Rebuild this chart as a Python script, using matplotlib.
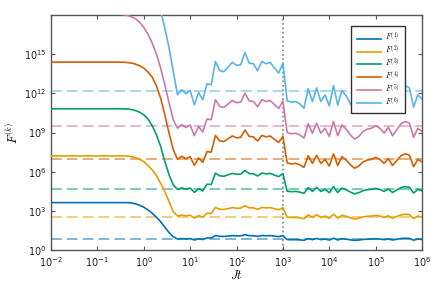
import numpy as np
import matplotlib
matplotlib.use("Agg")
import matplotlib.pyplot as plt

plt.rcParams["mathtext.fontset"] = "cm"

# time grid (11 samples per decade)
t = np.logspace(-2, 6, 89)

labels = ["$F^{(1)}$", "$F^{(2)}$", "$F^{(3)}$", "$F^{(4)}$", "$F^{(5)}$", "$F^{(6)}$"]
colors = ["#0072B2", "#E69F00", "#009E73", "#D55E00", "#CC79A7", "#56B4E9"]

# log10 of the initial plateau, and the decay (samples 15..29)
plateau = [3.63, 7.21, 10.82, 14.40, 18.30, 24.0]
decay = [
    [3.63, 3.63, 3.63, 3.63, 3.61, 3.54, 3.43, 3.28, 3.07, 2.82, 2.51, 2.17, 1.74, 1.33, 1.02],
    [7.21, 7.21, 7.21, 7.20, 7.16, 7.08, 6.95, 6.78, 6.47, 6.14, 5.70, 5.11, 4.48, 3.70, 2.94],
    [10.82, 10.82, 10.82, 10.81, 10.77, 10.69, 10.56, 10.36, 10.03, 9.52, 8.83, 7.94, 6.78, 5.76, 4.99],
    [14.40, 14.40, 14.39, 14.37, 14.33, 14.25, 14.12, 13.94, 13.64, 13.25, 12.58, 11.64, 10.36, 8.95, 7.68],
    [18.15, 18.09, 18.04, 17.99, 17.88, 17.73, 17.47, 17.06, 16.55, 15.86, 15.02, 13.94, 12.66, 11.26, 9.98],
    [24.0, 24.0, 23.9, 23.7, 23.4, 23.0, 22.5, 21.9, 21.2, 20.4, 19.4, 18.3, 17.01, 15.48, 13.68],
]

# long-time part (samples 30..88): level + jump * bump + amp * wiggle
center = [0.86, 2.65, 4.72, 7.10, 9.52, 12.15]
jump = [0.22, 0.55, 1.08, 1.50, 1.77, 2.00]
amp = [0.09, 0.20, 0.30, 0.60, 0.74, 1.00]
bump = [0] * 7 + [0.3, 0.3] + [1] * 17 + [0] * 33
wiggle = [-0.25, 0.13, -0.18, 0.08, -1.02, -0.08, -0.64,
          -0.01, -0.09,
          0.30, -0.39, -0.49, -0.13, 0.23, 0.00, 0.05, 0.99, 0.18, 0.12, -0.41, 0.30, 0.12, 0.23,
          -0.21, -0.59, 0.18,
          -0.70, -0.84, -0.77, -0.95, -1.28, 0.20, -0.77, 0.27, -0.77, -0.26, -1.11, 0.45, -1.04,
          0.09, -0.35, -0.95, -1.39, -1.11, -0.59, -0.35, -0.26, 0.0, -0.26, -0.77, -0.15, -1.04,
          -0.42, 0.20, 0.45, 0.27, -1.19, -0.26, -0.59]

# long-time reference values (log10)
dashed = [0.84, 2.56, 4.66, 6.96, 9.52, 12.15]

fig = plt.figure(figsize=(4.36, 2.91), dpi=100)
ax = fig.add_axes([0.117, 0.141, 0.851, 0.807])

for k in range(6):
    logF = [plateau[k]] * 15 + decay[k]
    logF = logF + [center[k] + jump[k] * b + amp[k] * w for b, w in zip(bump, wiggle)]
    ax.plot(t, 10.0 ** np.array(logF), color=colors[k], lw=1.2, label=labels[k], zorder=3)
    ax.axhline(10.0 ** dashed[k], color=colors[k], lw=1.2, alpha=0.6,
               dashes=(6.5, 3), zorder=2)

ax.axvline(1e3, color="gray", ls=":", lw=1.2, zorder=1)

ax.set_xscale("log")
ax.set_yscale("log")
ax.set_xlim(1e-2, 1e6)
ax.set_ylim(1e0, 1e18)
ax.set_xticks([10.0 ** p for p in range(-2, 7)])
ax.set_yticks([10.0 ** p for p in range(0, 18, 3)])
ax.minorticks_off()
ax.tick_params(direction="in", top=True, right=True, labelsize=7,
               color="#555555", labelcolor="#222222", length=3)
ax.tick_params(axis="x", pad=4)
ax.tick_params(axis="y", pad=3.5)
for s in ax.spines.values():
    s.set_color("#555555")
    s.set_linewidth(1.0)

ax.set_xlabel("$Jt$", fontsize=9, labelpad=0)
ax.set_ylabel("$F^{(k)}$", fontsize=9, labelpad=2)

ax.legend(loc="upper right", bbox_to_anchor=(0.963, 0.97), fontsize=5.5,
          fancybox=False, edgecolor="#333333", framealpha=1,
          handlelength=3.2, handletextpad=0.5, labelspacing=0.12, borderpad=0.7)

fig.savefig("out.png", dpi=100)
